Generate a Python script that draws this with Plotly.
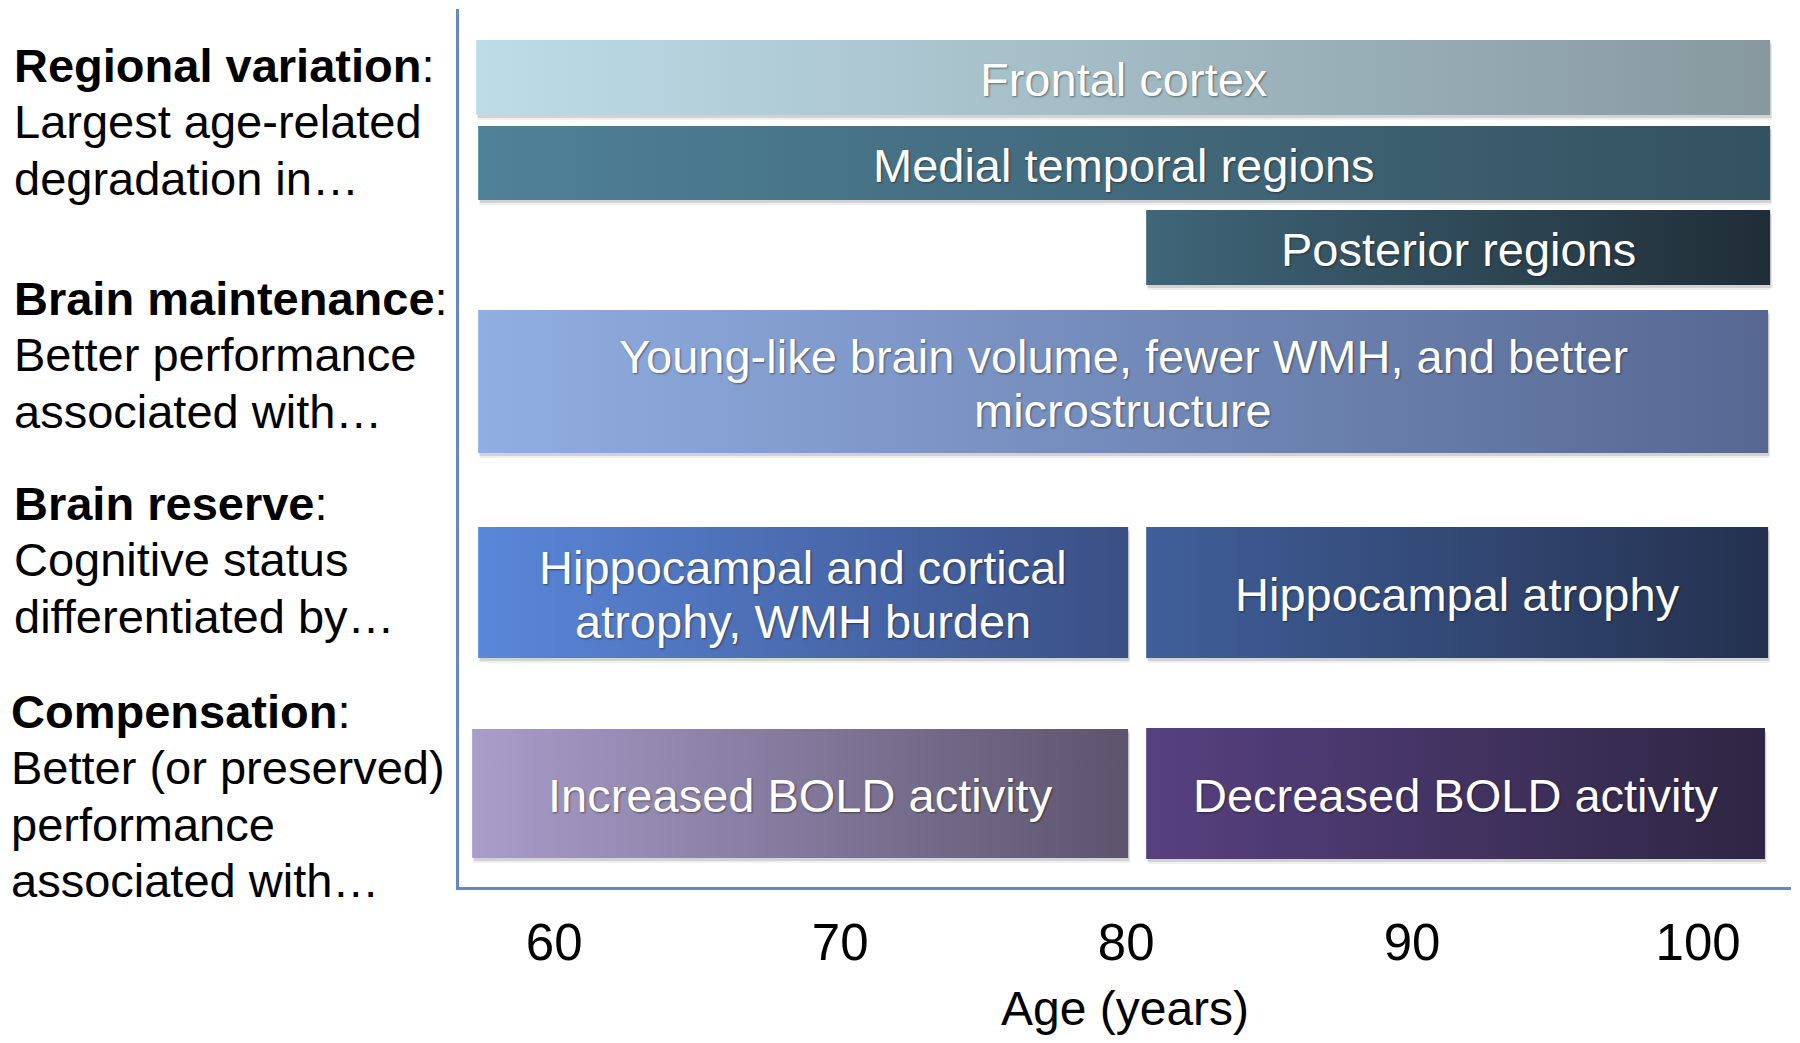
import plotly.graph_objects as go

# ---------------- data ----------------
bar_labels = [
    "Frontal cortex",
    "Medial temporal regions",
    "Posterior regions",
    "Young-like brain volume, fewer WMH, and better<br>microstructure",
    "Hippocampal and cortical<br>atrophy, WMH burden",
    "Hippocampal atrophy",
    "Increased BOLD activity",
    "Decreased BOLD activity",
]
bar_start = [57.27, 57.34, 80.7, 57.34, 57.34, 80.7, 57.13, 80.7]
bar_end = [102.52, 102.52, 102.52, 102.45, 80.07, 102.45, 80.07, 102.34]

group_titles = ["Regional variation", "Brain maintenance", "Brain reserve", "Compensation"]
group_descs = [
    ["Largest age-related", "degradation in…"],
    ["Better performance", "associated with…"],
    ["Cognitive status", "differentiated by…"],
    ["Better (or preserved)", "performance", "associated with…"],
]

tick_vals = [60, 70, 80, 90, 100]
tick_text = ["60", "70", "80", "90", "100"]
x_title = "Age (years)"

# ---------------- layout / style (pixel rows on the y axis) ----------------
bar_top = [40, 126, 210, 310, 527, 527, 729, 728]
bar_bottom = [115, 200, 285, 453, 658, 658, 858, 859]
bar_colors = [
    ("#bddce8", "#87999f"),
    ("#4f8198", "#34515f"),
    ("#3f6679", "#1f2d37"),
    ("#91aee2", "#566892"),
    ("#5a87da", "#3a4f84"),
    ("#405f9a", "#24314f"),
    ("#a99dca", "#5c546d"),
    ("#574080", "#2e2644"),
]
group_y0 = [65, 298, 503, 711]
group_x = [12, 12, 12, 9]
line_gap = 56.5
bar_line_gap = 54

FONT = "Liberation Sans, Arial, Helvetica, sans-serif"
# the page body has an 8px margin; the figure is placed at (8, 8)
OFF = 8
PLOT_L, PLOT_R, PLOT_T, PLOT_B = 459, 1791, 9, 887
W, H = 1784, 1027
ML = PLOT_L - OFF
MT = PLOT_T - OFF
MR = OFF + W - PLOT_R
MB = OFF + H - PLOT_B
PLOT_W = PLOT_R - PLOT_L
AX = "#6686c8"

fig = go.Figure()

# shadows
for s, e, t, b in zip(bar_start, bar_end, bar_top, bar_bottom):
    for off, a in [(5, 0.06), (3, 0.12)]:
        fig.add_trace(go.Scatter(
            x=[s + 0.05, e + 0.05, e + 0.05, s + 0.05, s + 0.05],
            y=[t + off, t + off, b + off, b + off, t + off],
            fill="toself", mode="none", fillcolor=f"rgba(0,0,0,{a})",
            hoverinfo="skip", showlegend=False))

# gradient bars
for lab, s, e, t, b, (c0, c1) in zip(bar_labels, bar_start, bar_end, bar_top, bar_bottom, bar_colors):
    fig.add_trace(go.Scatter(
        x=[s, e, e, s, s], y=[t, t, b, b, t],
        fill="toself", mode="none",
        fillgradient=dict(type="horizontal", colorscale=[[0, c0], [1, c1]], start=s, stop=e),
        hoverinfo="skip", showlegend=False))
    lines = lab.split("<br>")
    n = len(lines)
    cy = (t + b) / 2 + 2
    for i, ln in enumerate(lines):
        fig.add_annotation(
            x=(s + e) / 2, y=cy + (i - (n - 1) / 2) * bar_line_gap,
            xref="x", yref="y", text=ln, showarrow=False,
            xanchor="center", yanchor="middle",
            font=dict(family=FONT, size=47, color="white",
                      shadow="1px 1px 2px rgba(0,0,0,0.45)"))

# left-hand group labels
for title, descs, y0, gx in zip(group_titles, group_descs, group_y0, group_x):
    rows = [f"<b>{title}</b>:"] + descs
    for i, r in enumerate(rows):
        fig.add_annotation(
            x=(gx - PLOT_L) / PLOT_W, y=y0 + i * line_gap,
            xref="paper", yref="y", text=r, showarrow=False,
            xanchor="left", yanchor="middle",
            font=dict(family=FONT, size=47, color="black"))

fig.update_layout(
    width=W, height=H,
    margin=dict(l=ML, r=MR, t=MT, b=MB, pad=0),
    paper_bgcolor="white", plot_bgcolor="white",
    showlegend=False,
    font=dict(family=FONT, color="black"),
    xaxis=dict(
        range=[56.67, 103.25], tickvals=tick_vals, ticktext=tick_text,
        ticks="", showgrid=False, zeroline=False,
        showline=True, linecolor=AX, linewidth=3,
        tickfont=dict(family=FONT, size=51, color="black"),
        ticklabelstandoff=9,
        title=dict(text=x_title, font=dict(family=FONT, size=48, color="black"), standoff=24),
    ),
    yaxis=dict(
        range=[PLOT_B, PLOT_T], showticklabels=False, ticks="", showgrid=False, zeroline=False,
        showline=True, linecolor=AX, linewidth=3,
    ),
)

fig.write_html("out.html")
